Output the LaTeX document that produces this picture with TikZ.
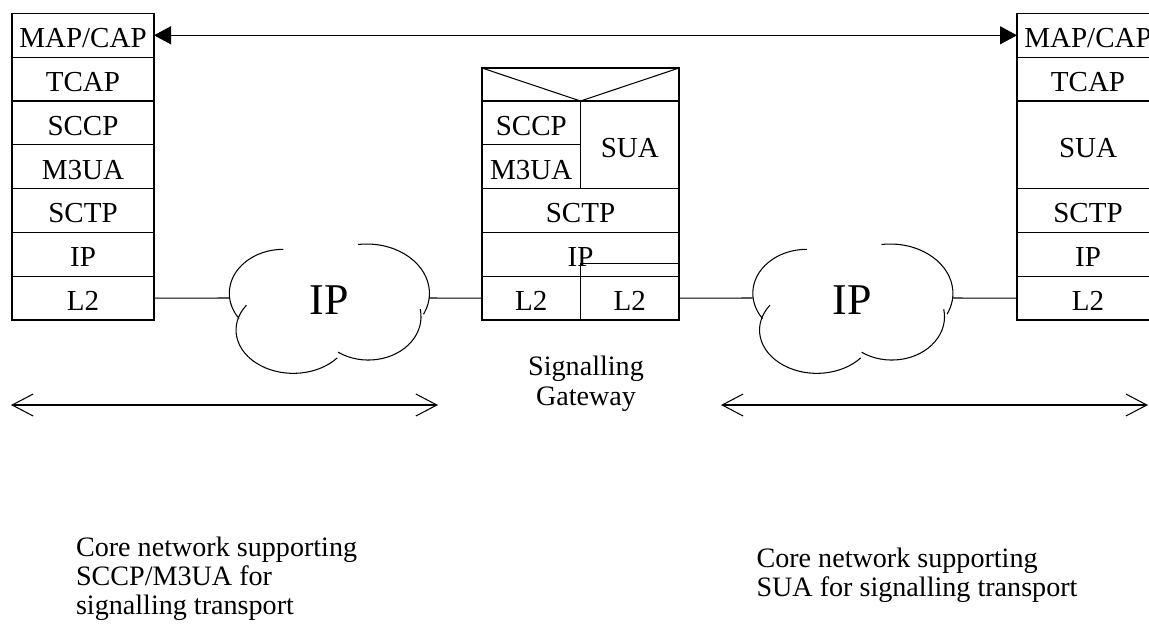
\documentclass[tikz,border=0pt]{standalone}
\usepackage{fontspec}
\setmainfont{Liberation Serif}
\usepackage{tikz}
\usetikzlibrary{arrows.meta, positioning}

% four open lobes of an IP cloud, drawn round a named node
\newcommand{\ipcloud}[1]{%
  \begin{scope}[shift={(#1.center)}]
    \draw (-45.7,-48.7) arc[start angle=270, end angle=145, x radius=54, y radius=44];
    \draw (29.0,-53.5) arc[start angle=262, end angle=385, x radius=62.7, y radius=49.3];
    \draw (-82.6,7.2) arc[start angle=215, end angle=40, x radius=57.3, y radius=43.3];
    \draw (9.1,54.2) arc[start angle=125, end angle=-10, x radius=52.7, y radius=43.3];
  \end{scope}}

\begin{document}
\begin{tikzpicture}[x=0.2mm, y=-0.2mm, line width=0.6pt,
    layer/.style={draw, rectangle, inner sep=0pt, outer sep=0pt, minimum width=28.4mm,
      minimum height=8.76mm, text height=14pt, text depth=0pt, font=\fontsize{16.5}{17}\selectfont},
    half/.style={layer, minimum width=19.7mm},
    cloudtext/.style={inner sep=0pt, outer sep=0pt, minimum width=40mm, text height=19.3pt,
      text depth=0pt, font=\fontsize{25}{26}\selectfont},
    note/.style={inner sep=0pt, font=\fontsize{16}{16.6}\selectfont}]
        \useasboundingbox (0,0) rectangle (1149,628);

        %---------------- Left: SCCP/M3UA node ----------------%
        \node[layer] (mapL) at (83,35.3) {MAP/CAP};
        \node[layer, below=0pt of mapL] (tcapL) {TCAP};
        \node[layer, below=0pt of tcapL] (sccpL) {SCCP};
        \node[layer, below=0pt of sccpL] (m3uaL) {M3UA};
        \node[layer, below=0pt of m3uaL] (sctpL) {SCTP};
        \node[layer, below=0pt of sctpL] (ipL) {IP};
        \node[layer, below=0pt of ipL] (l2L) {L2};

        %---------------- Middle: Signalling Gateway ----------------%
        \node[layer, minimum width=39.4mm, minimum height=6.6mm] (sgTop) at (580.5,84.5) {};
        \draw (sgTop.north west) -- (sgTop.south) -- (sgTop.north east);
        \node[half, below right=0pt of sgTop.south west] (sgSccp) {SCCP};
        \node[half, below=0pt of sgSccp] (sgM3ua) {M3UA};
        \node[half, minimum height=17.52mm, below left=0pt of sgTop.south east] (sgSua) {SUA};
        \node[layer, minimum width=39.4mm, below right=0pt of sgM3ua.south west] (sgSctp) {SCTP};
        \node[layer, minimum width=39.4mm, below=0pt of sgSctp] (sgIp) {IP};
        \node[half, below right=0pt of sgIp.south west] (sgL2a) {L2};
        \node[half, right=0pt of sgL2a] (sgL2b) {L2};
        \draw (sgL2b.north west) |- ([yshift=2.6mm]sgL2b.north east);
        \node[note, align=center, font=\fontsize{16}{17}\selectfont] (sgName) at (586,383.5) {Signalling\\Gateway};

        %---------------- Right: SUA node ----------------%
        \node[layer] (mapR) at (1088,35.3) {MAP/CAP};
        \node[layer, below=0pt of mapR] (tcapR) {TCAP};
        \node[layer, minimum height=17.52mm, below=0pt of tcapR] (suaR) {SUA};
        \node[layer, below=0pt of suaR] (sctpR) {SCTP};
        \node[layer, below=0pt of sctpR] (ipR) {IP};
        \node[layer, below=0pt of ipR] (l2R) {L2};

        %---------------- IP networks ----------------%
        \node[cloudtext] (netL) at (329,298) {IP};
        \ipcloud{netL}
        \node[cloudtext] (netR) at (852.5,298) {IP};
        \ipcloud{netR}
        \draw (l2L.east) -- (netL.west);
        \draw (netL.east) -- (sgL2a.west);
        \draw (sgL2b.east) -- (netR.west);
        \draw (netR.east) -- (l2R.west);

        % end-to-end MAP/CAP
        \draw[{Triangle[length=3.4mm, width=3.6mm]}-{Triangle[length=3.4mm, width=3.6mm]}] (mapL.east) -- (mapR.west);

        %---------------- Spans ----------------%
        \coordinate (spanLa) at (11,405);
        \coordinate (spanLb) at (438,405);
        \coordinate (spanRa) at (721,405);
        \coordinate (spanRb) at (1148,405);
        \draw[{Straight Barb[length=4.2mm, width=4.4mm]}-{Straight Barb[length=4.2mm, width=4.4mm]}] (spanLa) -- (spanLb);
        \draw[{Straight Barb[length=4.2mm, width=4.4mm]}-{Straight Barb[length=4.2mm, width=4.4mm]}] (spanRa) -- (spanRb);
        \node[note, align=left, anchor=north west] (coreL) at (75.5,536) {Core network supporting\\SCCP/M3UA for\\signalling transport};
        \node[note, align=left, anchor=north west] (coreR) at (756,547) {Core network supporting\\SUA for signalling transport};
    \end{tikzpicture}
\end{document}
